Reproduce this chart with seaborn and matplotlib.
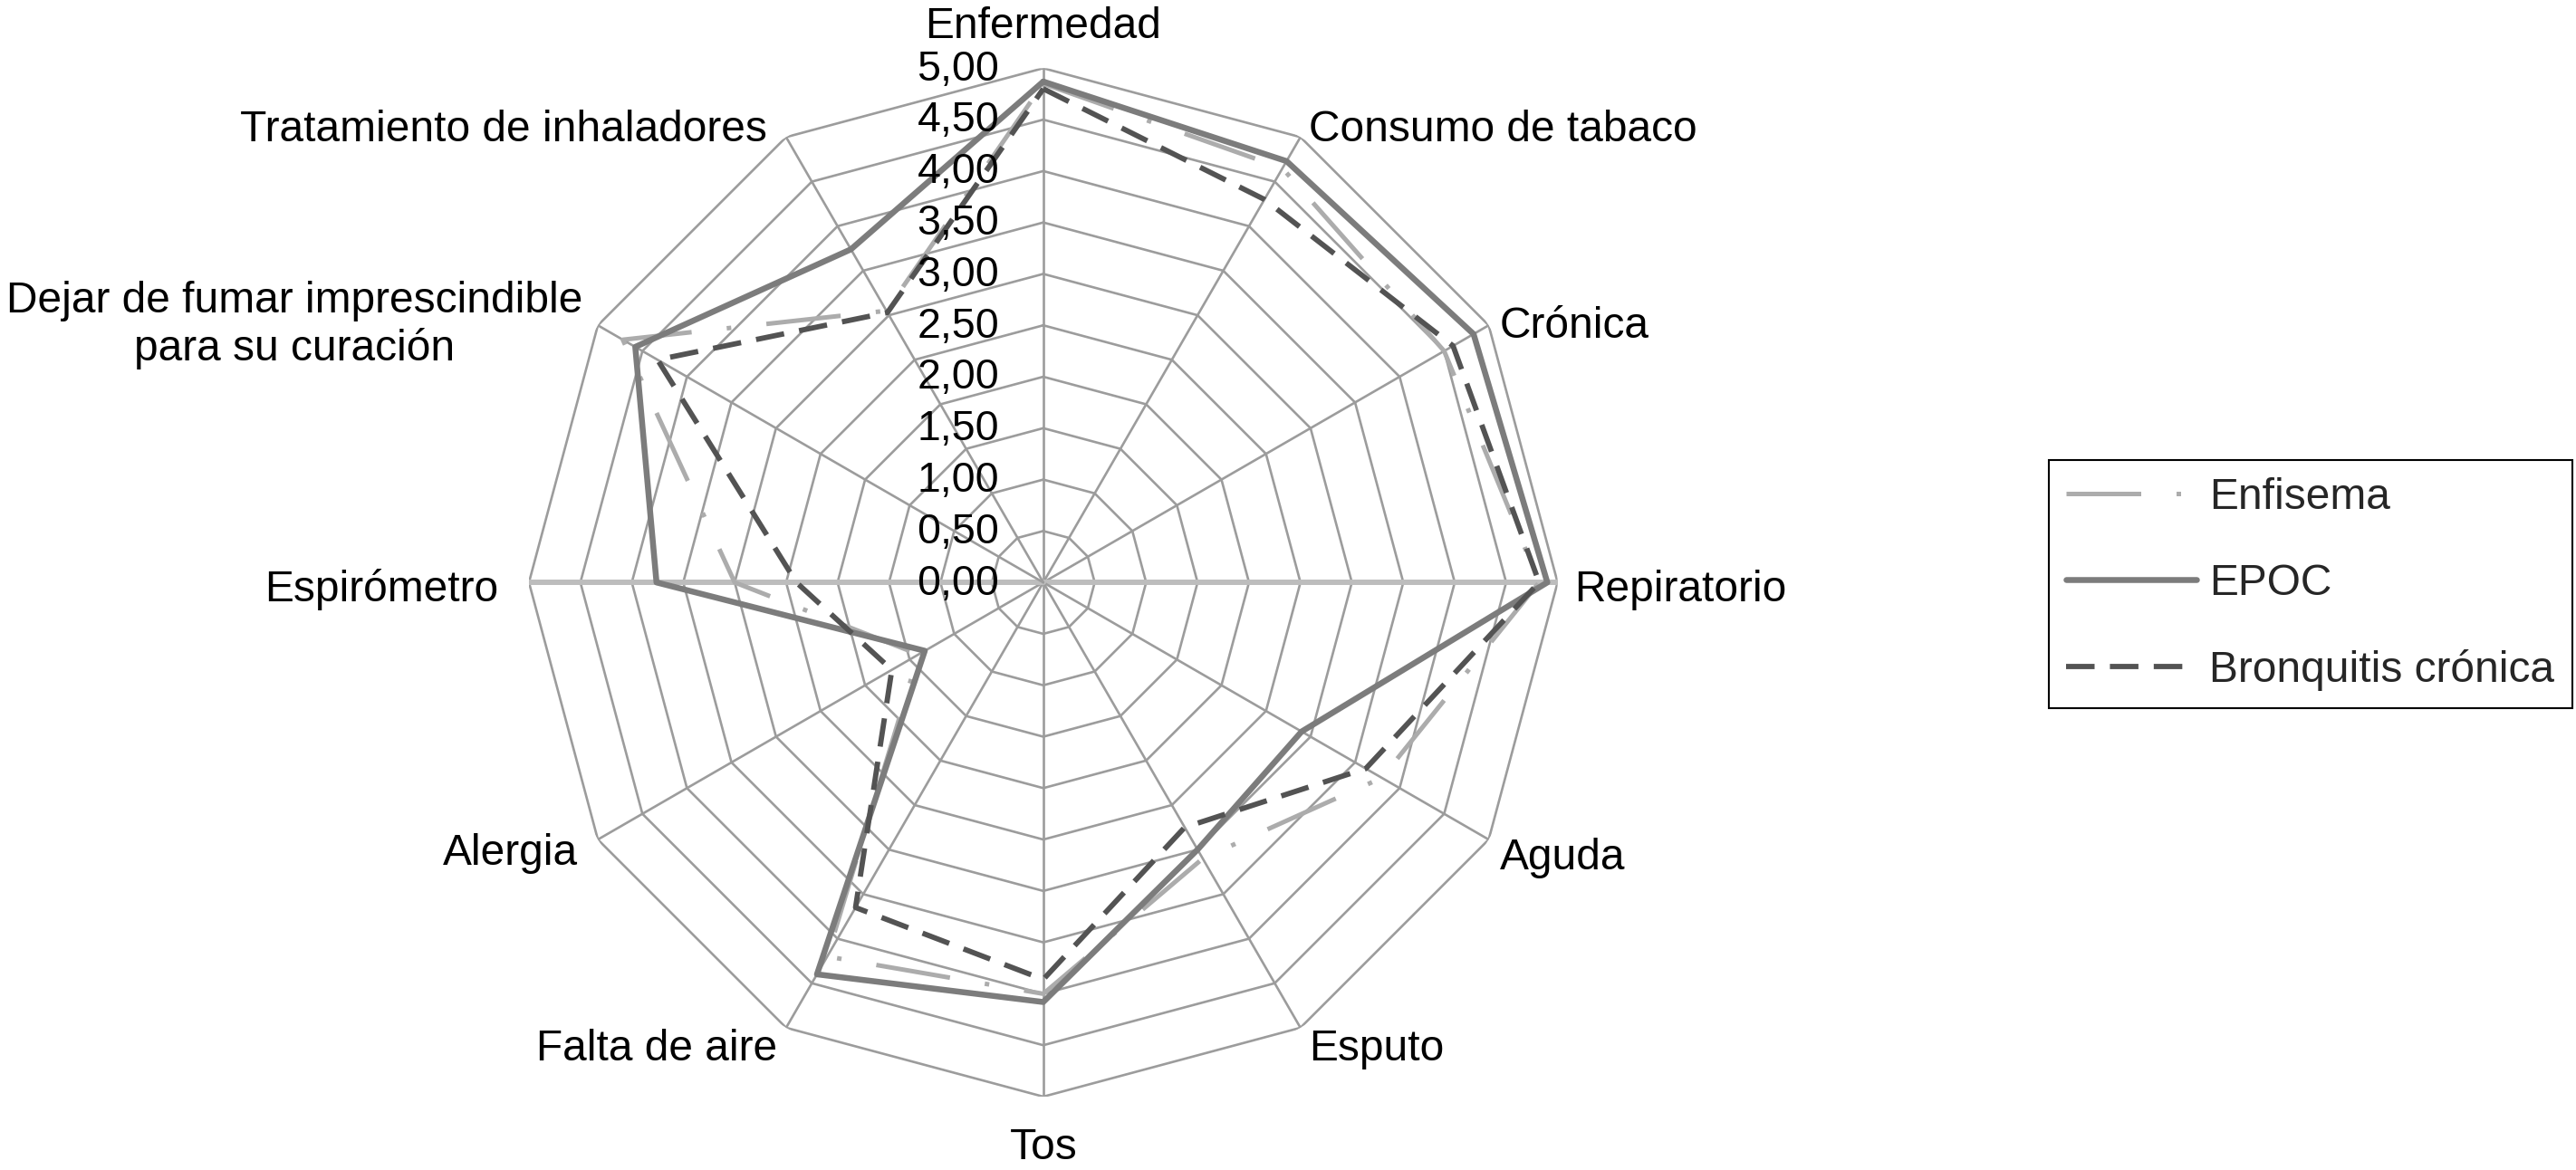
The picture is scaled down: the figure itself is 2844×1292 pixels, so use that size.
import matplotlib
matplotlib.use("Agg")
import matplotlib.pyplot as plt
import numpy as np
import pandas as pd
import seaborn as sns

# categories, clockwise from the top
categories = ["Enfermedad", "Consumo de tabaco", "Crónica", "Repiratorio", "Aguda",
              "Esputo", "Tos", "Falta de aire", "Alergia", "Espirómetro",
              "Dejar de fumar imprescindible\npara su curación",
              "Tratamiento de inhaladores"]
series_names = ["Enfisema", "EPOC", "Bronquitis crónica"]

enfisema = [4.85, 4.65, 4.50, 4.82, 3.80, 3.10, 4.00, 4.20, 1.40, 3.00, 4.72, 3.05]
epoc = [4.87, 4.73, 4.83, 4.90, 2.90, 3.00, 4.08, 4.40, 1.33, 3.76, 4.58, 3.74]
bronquitis = [4.80, 4.30, 4.60, 4.82, 3.62, 2.75, 3.86, 3.65, 1.70, 2.40, 4.33, 3.03]

ticks = [0.0, 0.5, 1.0, 1.5, 2.0, 2.5, 3.0, 3.5, 4.0, 4.5, 5.0]
tick_labels = ["0,00", "0,50", "1,00", "1,50", "2,00", "2,50",
               "3,00", "3,50", "4,00", "4,50", "5,00"]

sns.set_theme(style="white")
plt.rcParams["font.family"] = ["Liberation Sans", "DejaVu Sans"]

n = len(categories)
angles = np.linspace(0, 2 * np.pi, n, endpoint=False)
closed = np.append(angles, 2 * np.pi)

# long table, each polygon closed on its first point
rows = []
for name, vals in zip(series_names, [enfisema, epoc, bronquitis]):
    for t, v in zip(closed, vals + vals[:1]):
        rows.append({"serie": name, "theta": t, "valor": v})
df = pd.DataFrame(rows)

fig = plt.figure(figsize=(28.44, 12.92), dpi=100, facecolor="white")
ax = fig.add_axes([0.2053, 0.0627, 0.3994, 0.879], projection="polar")
ax.set_theta_offset(np.pi / 2)
ax.set_theta_direction(-1)
ax.grid(False)
ax.spines["polar"].set_visible(False)
ax.patch.set_alpha(0)

# polygon grid and spokes
grid_col = "#9c9c9c"
for lev in ticks[1:]:
    ax.plot(closed, [lev] * (n + 1), color=grid_col, lw=1.9, zorder=1)
for t in angles:
    if np.isclose(np.sin(t) ** 2, 1):
        ax.plot([t, t], [0, ticks[-1]], color="#bdbdbd", lw=4.3, zorder=1)
    else:
        ax.plot([t, t], [0, ticks[-1]], color=grid_col, lw=1.9, zorder=1)

palette = {"Enfisema": "#acacac", "EPOC": "#7c7c7c", "Bronquitis crónica": "#535353"}
dashes = {"Enfisema": (16.5, 7.8, 1, 7.8), "EPOC": "", "Bronquitis crónica": (5.4, 2.9)}
sizes = {"Enfisema": 3.6, "EPOC": 4.7, "Bronquitis crónica": 4.2}

n0 = len(ax.lines)
sns.lineplot(data=df, x="theta", y="valor", hue="serie", style="serie", size="serie",
             hue_order=series_names, style_order=series_names, size_order=series_names,
             palette=palette, dashes=dashes, sizes=sizes, sort=False,
             estimator=None, legend=False, ax=ax, zorder=2)
handles = ax.lines[n0:]

ax.set_ylim(0, ticks[-1])
ax.set_xticks([])
ax.set_yticks([])
ax.set_xlabel("")
ax.set_ylabel("")

# value labels along the top spoke
for v, lbl in zip(ticks, tick_labels):
    ax.annotate(lbl, xy=(0, v), xytext=(-35, -1), textcoords="offset points",
                ha="right", va="center", fontsize=33.5, color="black")

# category labels outside the outer ring
label_off = [(0, 33), (7, 6), (9, -1), (13, -6), (9, -15), (7, -17),
             (0, -41), (-7, -17), (-16, -11), (-24, -6), (-12, 0), (-15, 6)]
label_ha = ["center", "left", "left", "left", "left", "left",
            "center", "right", "right", "right", "right", "right"]
for t, lbl, off, ha in zip(angles, categories, label_off, label_ha):
    ax.annotate(lbl, xy=(t, ticks[-1]), xytext=off, textcoords="offset points",
                ha=ha, va="center", multialignment="center", fontsize=34.5,
                color="black", annotation_clip=False)

leg = fig.legend(handles, series_names, loc="upper left", bbox_to_anchor=(0.7954, 0.6068),
                 borderaxespad=0, frameon=True, fancybox=False, edgecolor="black",
                 framealpha=1, fontsize=34.5, handlelength=3.0, handletextpad=0.3,
                 labelspacing=1.04, borderpad=0.4)
leg.get_frame().set_linewidth(1.5)

fig.savefig("out.png", dpi=100, facecolor="white")
